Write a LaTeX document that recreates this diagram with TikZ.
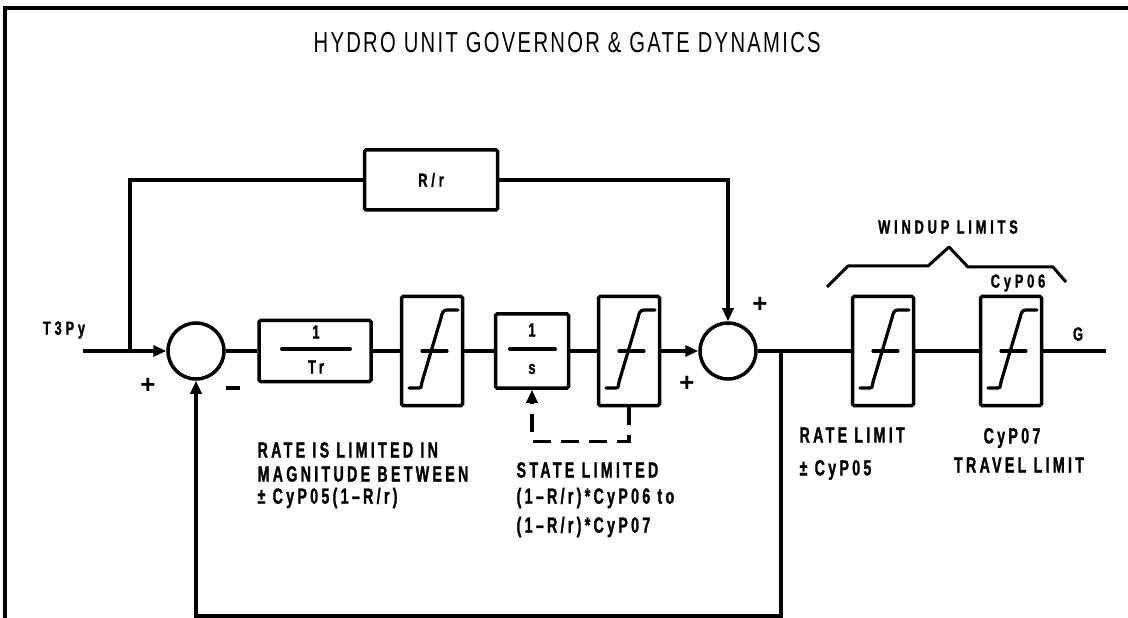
\documentclass[tikz,border=0pt]{standalone}
\usepackage{fontspec}
\setmainfont{Liberation Sans}
\newfontfamily\titlefam[FakeStretch=0.7,LetterSpace=8]{Liberation Sans}
\newfontfamily\labfam[FakeStretch=0.65,LetterSpace=15,FakeBold=1.2]{Liberation Sans}
\newfontfamily\slabfam[FakeStretch=0.68,LetterSpace=20,FakeBold=1.2]{Liberation Sans}
\usetikzlibrary{arrows.meta}
\newcommand\limsym[1]{%
  \begin{scope}[shift={(#1.center)}, line width=3.2bp, line cap=round]
    \draw (-23,37) -- (-13,37) .. controls (-11,37) .. (-10,31) -- (9,-33)
          .. controls (10,-38) and (11,-41) .. (15,-41) -- (26,-41);
    \draw (-10,0) -- (15,0);
  \end{scope}}
\begin{document}
\begin{tikzpicture}[x=1bp,y=-1bp, line width=3.2bp,
  blk/.style={draw, line width=3.5bp, inner sep=0pt, rounded corners=1.5bp},
  limbox/.style={blk, minimum width=61bp, minimum height=109bp},
  sumj/.style={draw, circle, line width=3.5bp, minimum size=56bp, inner sep=0pt},
  lbl/.style={font=\labfam\bfseries\fontsize{22}{24}\selectfont, inner sep=0pt},
  slbl/.style={font=\slabfam\bfseries\fontsize{19}{22}\selectfont, inner sep=0pt},
  sgn/.style={font=\bfseries\fontsize{26}{26}\selectfont, inner sep=0pt},
  arr/.style={-{Triangle[length=13bp,width=11bp]}},
  dsh/.style={dash pattern=on 18bp off 10bp}]
\useasboundingbox (0,0) rectangle (1128,618);
% frame
\draw[line width=3.5bp] (1128,8) -- (5,8) -- (5,618);
% title
\node[font=\titlefam\fontsize{29}{30}\selectfont, inner sep=0pt, anchor=west] (title) at (312,43) {HYDRO UNIT GOVERNOR \& GATE DYNAMICS};
% blocks
\node[sumj] (sum1) at (196,351) {};
\node[blk, minimum width=112bp, minimum height=61bp] (tr) at (315,351) {};
\node[limbox] (lim1) at (432,351) {};
\node[blk, minimum width=73bp, minimum height=74bp] (ints) at (532,351) {};
\node[limbox] (lim2) at (629,351) {};
\node[sumj] (sum2) at (728,351) {};
\node[limbox] (lim3) at (883,351) {};
\node[limbox] (lim4) at (1011,351) {};
\node[blk, minimum width=133bp, minimum height=60bp] (rr) at (431,180) {};
\node[slbl] (rrt) at (rr.center) {R/r};
\limsym{lim1}\limsym{lim2}\limsym{lim3}\limsym{lim4}
% fractions
\draw[line width=4bp, line cap=round] (282,349) -- (350,349);
\node[slbl] (tr1) at (316,332) {1};
\node[slbl] (tr2) at (316,367) {Tr};
\draw[line width=4bp, line cap=round] (510,349) -- (555,349);
\node[slbl] (s1) at (532,330) {1};
\node[slbl] (s2) at (532,369) {s};
% coordinates
\coordinate (in) at (83,351);
\coordinate (br) at (130,351);
\coordinate (tap) at (781,351);
\coordinate (fbR) at (781,616);
\coordinate (out) at (1106,351);
% connectors
\draw[arr] (in) -- (sum1.west);
\draw (br) |- (rr.west);
\draw[arr] (rr.east) -| (sum2.north);
\draw (sum1.east) -- (tr.west);
\draw (tr.east) -- (lim1.west);
\draw (lim1.east) -- (ints.west);
\draw (ints.east) -- (lim2.west);
\draw[arr] (lim2.east) -- (sum2.west);
\draw (sum2.east) -- (lim3.west);
\draw (lim3.east) -- (lim4.west);
\draw (lim4.east) -- (out);
\draw[arr] (tap) -- (fbR) -| (sum1.south);
\draw[dsh, arr] (lim2.south) -- ++(0,34) -| (ints.south);
% windup bracket
\draw[line width=3bp, line join=round] (827,287) -- (848,266) -- (928,266) -- (949,247) -- (968,267) -- (1053,267) -- (1066,282);
% signs
\node[sgn] (p1) at (148,386) {+};
\node[sgn] (m1) at (233,388) {\rule{14bp}{4bp}};
\node[sgn] (p2) at (687,384) {+};
\node[sgn] (p3) at (760,305) {+};
% labels
\node[slbl] (t3) at (64,330) {T3Py};
\node[slbl] (g) at (1078,334) {G};
\node[slbl] (wl) at (948,227) {WINDUP LIMITS};
\node[slbl] (c6) at (1018,283) {CyP06};
\node[lbl, anchor=west] (a1) at (256,450) {RATE IS LIMITED IN};
\node[lbl, anchor=west] (a2) at (256,474) {MAGNITUDE BETWEEN};
\node[lbl, anchor=west] (a3) at (256,498) {± CyP05(1–R/r)};
\node[lbl, anchor=west] (b1) at (515,470) {STATE LIMITED};
\node[lbl, anchor=west] (b2) at (515,498) {(1–R/r)*CyP06 to};
\node[lbl, anchor=west] (b3) at (515,527) {(1–R/r)*CyP07};
\node[lbl, anchor=west] (c1) at (798,435) {RATE LIMIT};
\node[lbl, anchor=west] (c2) at (798,470) {± CyP05};
\node[lbl] (d1) at (1012,438) {CyP07};
\node[lbl] (d2) at (1019,465) {TRAVEL LIMIT};
\end{tikzpicture}
\end{document}
